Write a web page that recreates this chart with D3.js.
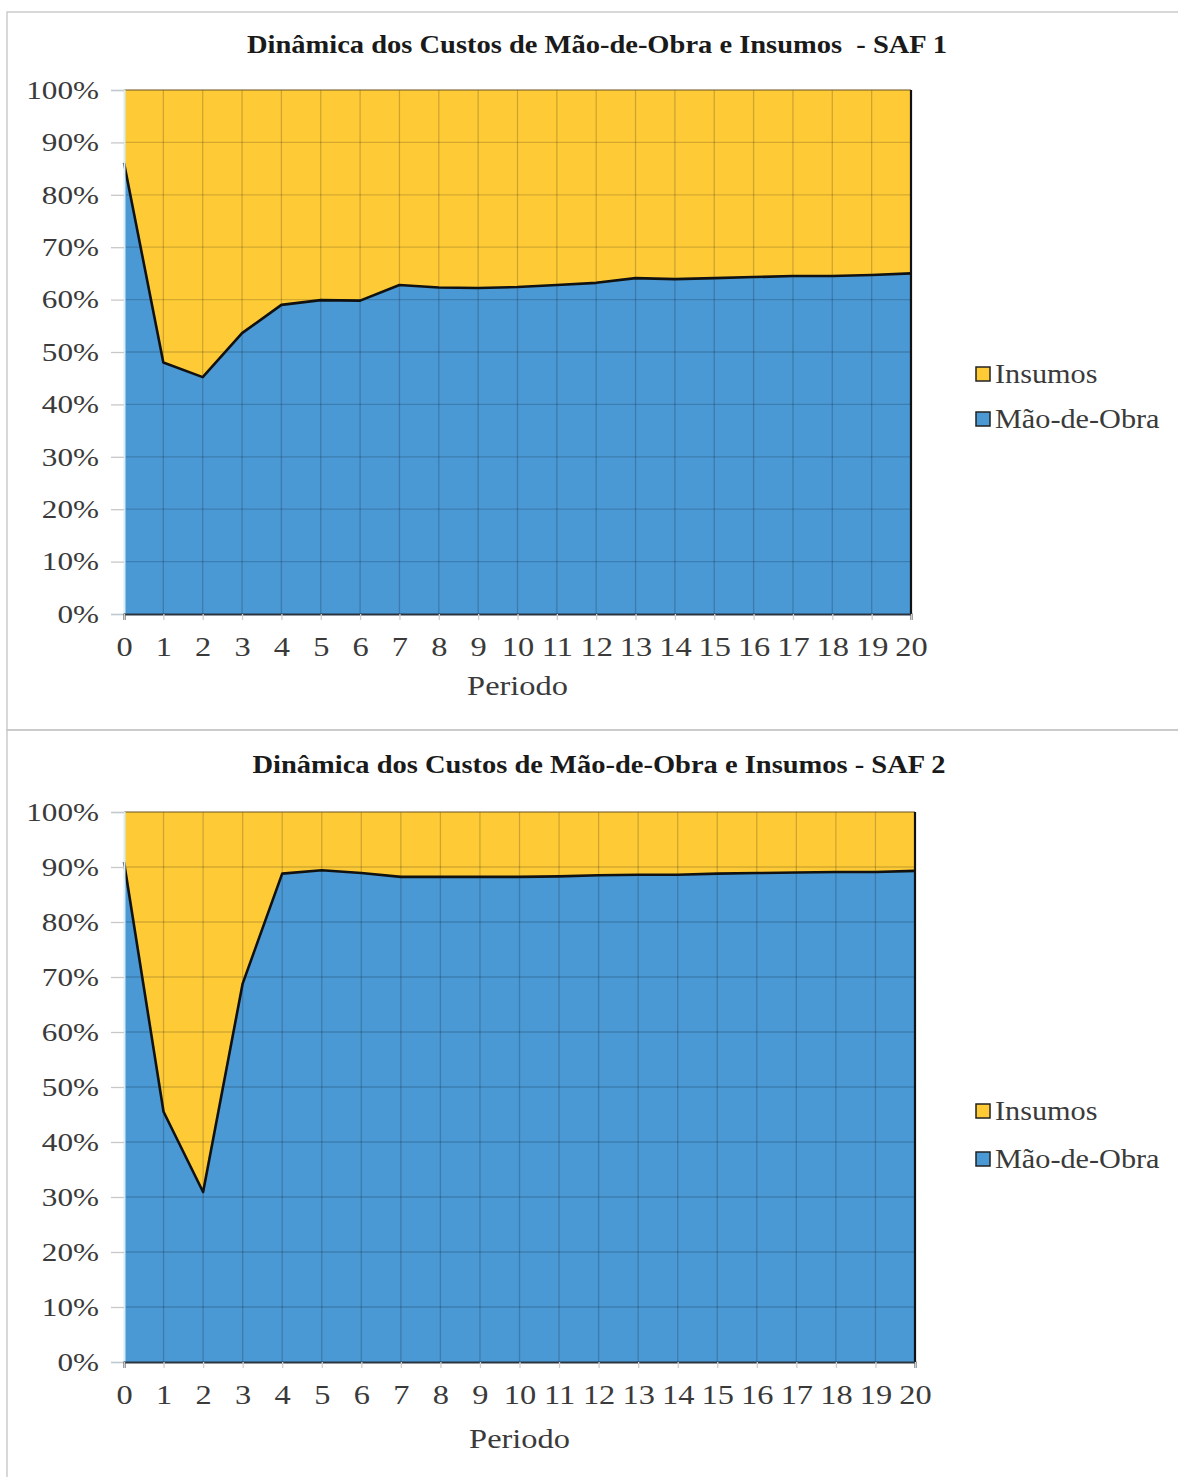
<!DOCTYPE html>
<html>
<head>
<meta charset="utf-8">
<script src="https://cdn.jsdelivr.net/npm/d3@7"></script>
<style>
  body { margin: 0; background: #fff; }
  svg { display: block; }
  text { font-family: "Liberation Serif", "Times New Roman", serif; }
</style>
</head>
<body>
<svg id="canvas" width="1178" height="1477"></svg>
<script>
// categories
const periods = [0,1,2,3,4,5,6,7,8,9,10,11,12,13,14,15,16,17,18,19,20]
const seriesNames = ["Mão-de-Obra", "Insumos"]
const legendNames = ["Insumos", "Mão-de-Obra"]
const yTicks = [0,0.1,0.2,0.3,0.4,0.5,0.6,0.7,0.8,0.9,1]

// SAF 1 (% of total cost)
const maoObraSaf1 = [86.1,48.0,45.2,53.6,59.0,59.9,59.8,62.8,62.3,62.2,62.4,62.8,63.2,64.1,63.9,64.1,64.3,64.5,64.5,64.7,65.0]
const insumosSaf1 = [13.9,52.0,54.8,46.4,41.0,40.1,40.2,37.2,37.7,37.8,37.6,37.2,36.8,35.9,36.1,35.9,35.7,35.5,35.5,35.3,35.0]

// SAF 2 (% of total cost)
const maoObraSaf2 = [90.9,45.5,30.9,68.8,88.8,89.4,88.9,88.2,88.2,88.2,88.2,88.3,88.5,88.6,88.6,88.8,88.9,89.0,89.1,89.1,89.3]
const insumosSaf2 = [9.1,54.5,69.1,31.2,11.2,10.6,11.1,11.8,11.8,11.8,11.8,11.7,11.5,11.4,11.4,11.2,11.1,11.0,10.9,10.9,10.7]

const colors = { "Mão-de-Obra": "#4a98d4", "Insumos": "#fecb37" }
// the reference text looks stretched horizontally
const SX_TICK = 1.2
const SX_TITLE = 1.14
const SX_LEG = 1.08

let canvas = d3.select("#canvas")

drawChart = (cfg) => {
    let g = canvas.append("g")

    // panel frame
    g.append("rect")
        .attr("x", cfg.frame[0]).attr("y", cfg.frame[1])
        .attr("width", cfg.frame[2]).attr("height", cfg.frame[3])
        .attr("fill", "none").attr("stroke", "#c4c4c4").attr("stroke-width", 1.3)

    let x = d3.scaleLinear().domain([0, 20]).range([cfg.left, cfg.right])
    let y = d3.scaleLinear().domain([0, 1]).range([cfg.bottom, cfg.top])

    let rows = periods.map((p, i) => ({ periodo: p, "Mão-de-Obra": cfg.mao[i], "Insumos": cfg.ins[i] }))
    let stacked = d3.stack().keys(seriesNames).offset(d3.stackOffsetExpand)(rows)

    let area = d3.area()
        .x(d => x(d.data.periodo))
        .y0(d => y(d[0]))
        .y1(d => y(d[1]))

    g.selectAll(".layer")
        .data(stacked)
        .enter()
        .append("path")
        .attr("class", "layer")
        .attr("d", area)
        .attr("fill", s => colors[s.key])

    // gridlines drawn over the areas, as in the picture
    g.append("g").selectAll("line")
        .data(yTicks.slice(1, -1))
        .enter().append("line")
        .attr("x1", x(0)).attr("x2", x(20))
        .attr("y1", d => y(d)).attr("y2", d => y(d))
        .attr("stroke", "#000").attr("stroke-opacity", 0.17).attr("stroke-width", 1.3)
    g.append("g").selectAll("line")
        .data(periods.slice(1, -1))
        .enter().append("line")
        .attr("x1", d => x(d)).attr("x2", d => x(d))
        .attr("y1", y(0)).attr("y2", y(1))
        .attr("stroke", "#000").attr("stroke-opacity", 0.19).attr("stroke-width", 1.3)

    // thin top border of Insumos
    g.append("line")
        .attr("x1", x(0)).attr("x2", x(20)).attr("y1", y(1)).attr("y2", y(1))
        .attr("stroke", "#6b5522").attr("stroke-width", 1.2)

    // boundary line between the series + right edge
    let mao = stacked[0]
    g.append("path")
        .datum(mao)
        .attr("d", d3.line().x(d => x(d.data.periodo)).y(d => y(d[1])))
        .attr("fill", "none").attr("stroke", "#111").attr("stroke-width", 2.6)
        .attr("stroke-linejoin", "round")
    g.append("line")
        .attr("x1", x(20)).attr("x2", x(20)).attr("y1", y(1)).attr("y2", y(0))
        .attr("stroke", "#111").attr("stroke-width", 2.2)

    // y axis
    let yAxis = g.append("g")
        .attr("transform", "translate(" + cfg.left + ",0)")
        .call(d3.axisLeft(y).tickValues(yTicks).tickFormat(d3.format(".0%")).tickSize(13).tickPadding(12))
    yAxis.select(".domain").attr("stroke", "#d8eef8").attr("stroke-width", 2)
    yAxis.selectAll(".tick line").attr("stroke", "#c8c8c8").attr("stroke-width", 1.3)
    yAxis.selectAll(".tick text")
        .attr("x", -25 / SX_TICK)
        .attr("font-size", 26).attr("fill", "#3a3a3a")
        .attr("font-family", "Liberation Serif")
        .attr("transform", "scale(" + SX_TICK + ",1)")

    // x axis
    let xAxis = g.append("g")
        .attr("transform", "translate(0," + cfg.bottom + ")")
        .call(d3.axisBottom(x).tickValues(periods).tickFormat(d3.format("d")).tickSize(6).tickPadding(17))
    xAxis.select(".domain").attr("stroke", "#2a3440").attr("stroke-width", 2)
    xAxis.selectAll(".tick line").attr("stroke", "#cfcfcf").attr("stroke-width", 1.3)
    xAxis.selectAll(".tick text")
        .attr("font-size", 27).attr("fill", "#3a3a3a")
        .attr("font-family", "Liberation Serif")
        .attr("transform", "scale(" + SX_TICK + ",1)")

    // axis title
    g.append("text")
        .attr("transform", "translate(" + (cfg.left + cfg.right) / 2 + "," + cfg.xTitleY + ") scale(" + SX_TICK + ",1)")
        .attr("text-anchor", "middle")
        .attr("font-size", 27).attr("fill", "#3a3a3a")
        .text("Periodo")

    // chart title
    g.append("text")
        .attr("transform", "translate(" + cfg.titleX + "," + cfg.titleY + ") scale(" + SX_TITLE + ",1)")
        .attr("text-anchor", "middle")
        .attr("font-size", 25).attr("font-weight", "bold").attr("fill", "#1a1a1a")
        .style("white-space", "pre")
        .text(cfg.title)

    // legend
    let leg = g.selectAll(".leg")
        .data(legendNames)
        .enter().append("g")
        .attr("transform", (d, i) => "translate(" + cfg.legendX + "," + (cfg.legendY + i * cfg.legendGap) + ")")
    leg.append("rect")
        .attr("x", -19).attr("y", -16).attr("width", 14).attr("height", 14)
        .attr("fill", d => colors[d]).attr("stroke", "#222").attr("stroke-width", 1.5)
    leg.append("text")
        .attr("transform", "scale(" + SX_LEG + ",1)")
        .attr("font-size", 28).attr("fill", "#3a3a3a")
        .text(d => d)
}

drawChart({
    frame: [7, 12, 1180, 718],
    left: 124, right: 911, top: 90, bottom: 614,
    mao: maoObraSaf1, ins: insumosSaf1,
    title: "Dinâmica dos Custos de Mão-de-Obra e Insumos  - SAF 1",
    titleX: 597, titleY: 53, xTitleY: 695,
    legendX: 995, legendY: 383, legendGap: 45
})

drawChart({
    frame: [7, 730, 1180, 760],
    left: 124, right: 915, top: 812, bottom: 1362,
    mao: maoObraSaf2, ins: insumosSaf2,
    title: "Dinâmica dos Custos de Mão-de-Obra e Insumos - SAF 2",
    titleX: 599, titleY: 773, xTitleY: 1448,
    legendX: 995, legendY: 1120, legendGap: 48
})
</script>
</body>
</html>
